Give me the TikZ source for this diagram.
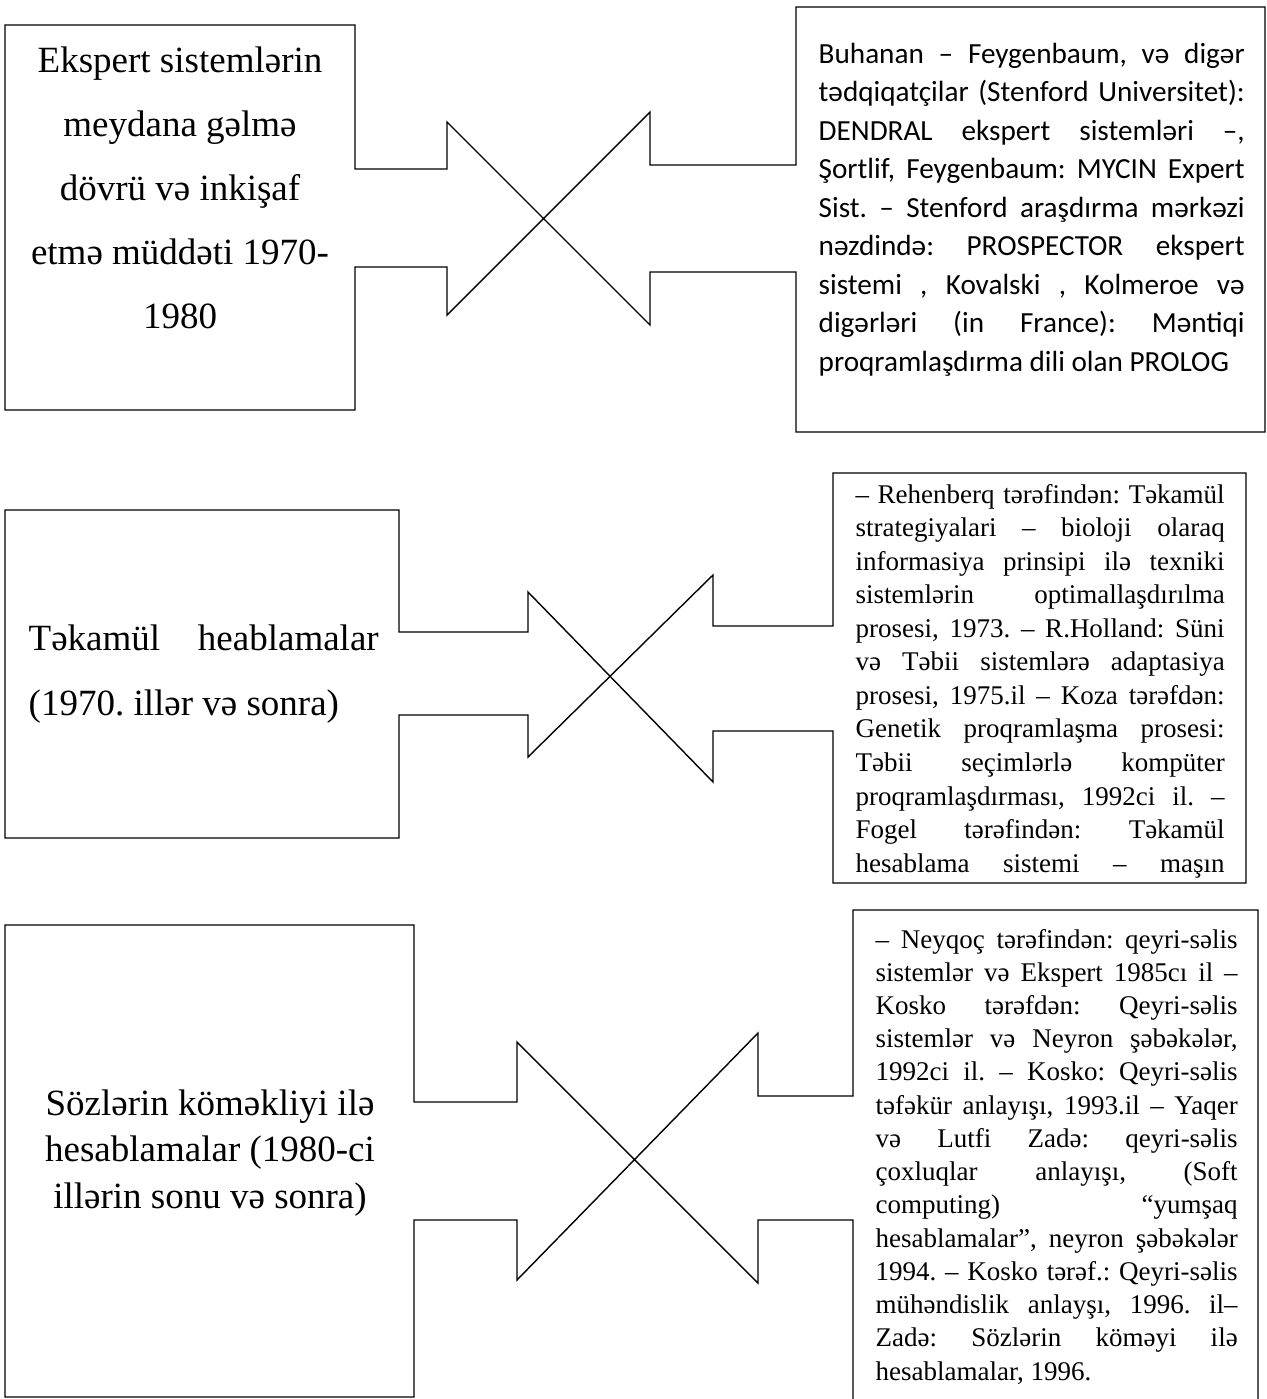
\documentclass[tikz,border=0pt]{standalone}
\usepackage{fontspec}
\setmainfont{Liberation Serif}
\newfontfamily\calibfont{Carlito}
\newcommand\jline[2]{\makebox[#1][s]{#2}}
\frenchspacing
\begin{document}
\frenchspacing
\begin{tikzpicture}[x=0.5pt,y=-0.5pt,line width=0.7pt,line join=miter,
  bigtxt/.style={font=\fontsize{18.5}{22}\selectfont,inner sep=0pt,anchor=base},
  bigleft/.style={font=\fontsize{18.5}{22}\selectfont,inner sep=0pt,anchor=base west},
  caltxt/.style={font=\calibfont\fontsize{14.6}{17}\selectfont,inner sep=0pt,anchor=base west},
  smalltxt/.style={font=\fontsize{13.5}{16}\selectfont,inner sep=0pt,anchor=base west},
  outline/.style={draw=black,line width=0.7pt}]
\useasboundingbox (0,0) rectangle (1266,1399);
\clip (0,0) rectangle (1266,1399);

% ---------- top section ----------
\draw[outline] (355,169) -- (355,25) -- (5,25) -- (5,410) -- (355,410) -- (355,267)
  -- (447,267) -- (447,315) -- (650,112) -- (650,165) -- (796,165) -- (796,7)
  -- (1265,7) -- (1265,432) -- (796,432) -- (796,272) -- (650,272) -- (650,325)
  -- (447,122) -- (447,169) -- cycle;

\node[bigtxt] (a1) at (180,72) {Ekspert sistemlərin};
\node[bigtxt] (a2) at (180,136) {meydana gəlmə};
\node[bigtxt] (a3) at (180,200) {dövrü və inkişaf};
\node[bigtxt] (a4) at (180,264) {etmə müddəti 1970-};
\node[bigtxt] (a5) at (180,328) {1980};

\node[caltxt] (b1) at (818,63) {\jline{213pt}{Buhanan – Feygenbaum, və digər}};
\node[caltxt] (b2) at (818,101.5) {\jline{213pt}{tədqiqatçilar (Stenford Universitet):}};
\node[caltxt] (b3) at (818,140) {\jline{213pt}{DENDRAL ekspert sistemləri –,}};
\node[caltxt] (b4) at (818,178.5) {\jline{213pt}{Şortlif, Feygenbaum: MYCIN Expert}};
\node[caltxt] (b5) at (818,217) {\jline{213pt}{Sist. – Stenford araşdırma mərkəzi}};
\node[caltxt] (b6) at (818,255.5) {\jline{213pt}{nəzdində: PROSPECTOR ekspert}};
\node[caltxt] (b7) at (818,294) {\jline{213pt}{sistemi , Kovalski , Kolmeroe və}};
\node[caltxt] (b8) at (818,332.5) {\jline{213pt}{digərləri (in France): Məntiqi}};
\node[caltxt] (b9) at (818,371) {proqramlaşdırma dili olan PROLOG};

% ---------- middle section ----------
\draw[outline] (399,632) -- (399,510) -- (5,510) -- (5,838) -- (399,838) -- (399,715)
  -- (528,715) -- (528,757) -- (713,575) -- (713,626) -- (833,626) -- (833,473)
  -- (1246,473) -- (1246,883) -- (833,883) -- (833,731) -- (713,731) -- (713,782)
  -- (528,592) -- (528,632) -- cycle;

\node[bigleft] (c1) at (28,650) {\jline{175pt}{Təkamül heablamalar}};
\node[bigleft] (c2) at (28,715) {(1970. illər və sonra)};

\node[smalltxt] (d1) at (855,503) {\jline{184.5pt}{– Rehenberq tərəfindən: Təkamül}};
\node[smalltxt] (d2) at (855,536.5) {\jline{184.5pt}{strategiyalari – bioloji olaraq}};
\node[smalltxt] (d3) at (855,570) {\jline{184.5pt}{informasiya prinsipi ilə texniki}};
\node[smalltxt] (d4) at (855,603.6) {\jline{184.5pt}{sistemlərin optimallaşdırılma}};
\node[smalltxt] (d5) at (855,637) {\jline{184.5pt}{prosesi, 1973. – R.Holland: Süni}};
\node[smalltxt] (d6) at (855,670.8) {\jline{184.5pt}{və Təbii sistemlərə adaptasiya}};
\node[smalltxt] (d7) at (855,704.3) {\jline{184.5pt}{prosesi, 1975.il – Koza tərəfdən:}};
\node[smalltxt] (d8) at (855,737.9) {\jline{184.5pt}{Genetik proqramlaşma prosesi:}};
\node[smalltxt] (d9) at (855,771.4) {\jline{184.5pt}{Təbii seçimlərlə kompüter}};
\node[smalltxt] (d10) at (855,805) {\jline{184.5pt}{proqramlaşdırması, 1992ci il. –}};
\node[smalltxt] (d11) at (855,838.5) {\jline{184.5pt}{Fogel tərəfindən: Təkamül}};
\node[smalltxt] (d12) at (855,872) {\jline{184.5pt}{hesablama sistemi – maşın}};

% ---------- bottom section ----------
\draw[outline] (414,1102) -- (414,925) -- (5,925) -- (5,1397) -- (414,1397) -- (414,1220)
  -- (517,1220) -- (517,1280) -- (758,1033) -- (758,1096) -- (853,1096) -- (853,910)
  -- (1258,910) -- (1258,1430) -- (853,1430) -- (853,1220) -- (758,1220) -- (758,1283)
  -- (517,1042) -- (517,1102) -- cycle;

\node[bigtxt] (e1) at (210,1115) {Sözlərin köməkliyi ilə};
\node[bigtxt] (e2) at (210,1161.5) {hesablamalar (1980-ci};
\node[bigtxt] (e3) at (210,1208) {illərin sonu və sonra)};

\node[smalltxt] (f1) at (875,948) {\jline{181pt}{– Neyqoç tərəfindən: qeyri-səlis}};
\node[smalltxt] (f2) at (875,981.2) {\jline{181pt}{sistemlər və Ekspert 1985cı il –}};
\node[smalltxt] (f3) at (875,1014.5) {\jline{181pt}{Kosko tərəfdən: Qeyri-səlis}};
\node[smalltxt] (f4) at (875,1047.7) {\jline{181pt}{sistemlər və Neyron şəbəkələr,}};
\node[smalltxt] (f5) at (875,1080.9) {\jline{181pt}{1992ci il. – Kosko: Qeyri-səlis}};
\node[smalltxt] (f6) at (875,1114.2) {\jline{181pt}{təfəkür anlayışı, 1993.il – Yaqer}};
\node[smalltxt] (f7) at (875,1147.4) {\jline{181pt}{və Lutfi Zadə: qeyri-səlis}};
\node[smalltxt] (f8) at (875,1180.6) {\jline{181pt}{çoxluqlar anlayışı, (Soft}};
\node[smalltxt] (f9) at (875,1213.8) {\jline{181pt}{computing) “yumşaq}};
\node[smalltxt] (f10) at (875,1247.1) {\jline{181pt}{hesablamalar”, neyron şəbəkələr}};
\node[smalltxt] (f11) at (875,1280.3) {\jline{181pt}{1994. – Kosko tərəf.: Qeyri-səlis}};
\node[smalltxt] (f12) at (875,1313.5) {\jline{181pt}{mühəndislik anlayşı, 1996. il–}};
\node[smalltxt] (f13) at (875,1346.8) {\jline{181pt}{Zadə: Sözlərin köməyi ilə}};
\node[smalltxt] (f14) at (875,1380) {hesablamalar, 1996.};
\end{tikzpicture}
\end{document}
